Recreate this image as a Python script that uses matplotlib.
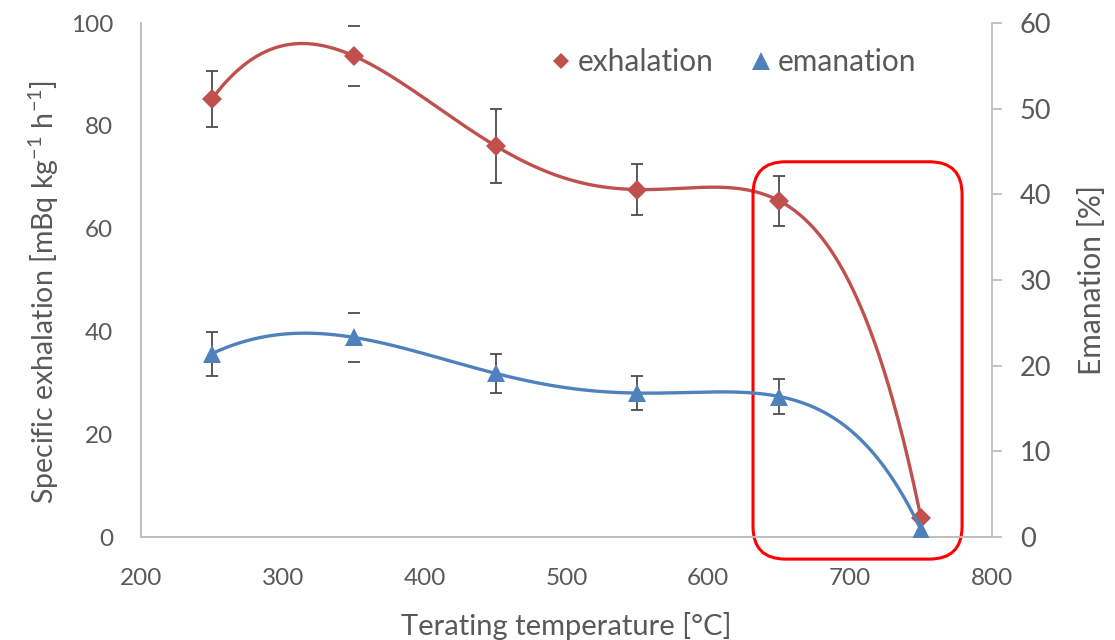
import matplotlib
matplotlib.use("Agg")
import matplotlib.pyplot as plt
import numpy as np
from matplotlib.patches import FancyBboxPatch
from matplotlib.lines import Line2D

# data
temperature = [250, 350, 450, 550, 650, 750]
exhalation = [85.2, 93.6, 76.1, 67.6, 65.4, 3.6]
exhalation_err = [5.5, 5.85, 7.2, 5.0, 4.9, 0.0]
emanation = [21.4, 23.3, 19.1, 16.8, 16.4, 0.8]
emanation_err = [2.55, 2.85, 2.3, 1.95, 2.0, 0.0]
# the 350 °C bars show only their caps in the original
stemless = [False, True, False, False, False, False]

red = "#C0504D"
blue = "#4F81BD"
text_gray = "#595959"
axis_gray = "#BFBFBF"
bar_gray = "#4D4D4D"

plt.rcParams["font.family"] = ["Lato", "DejaVu Sans"]
plt.rcParams["mathtext.fontset"] = "custom"
plt.rcParams["mathtext.rm"] = "Lato"
plt.rcParams["mathtext.it"] = "Lato"

fig = plt.figure(figsize=(11.15, 6.4), dpi=100)
ax = fig.add_axes([141 / 1115, 1 - 537 / 640, 851 / 1115, 514 / 640])
ax2 = ax.twinx()

x = np.array(temperature, dtype=float)
xs = np.linspace(x.min(), x.max(), 400)


def draw_series(axis, values, errors, color, marker, msize):
    vals = np.array(values, dtype=float)
    errs = np.array(errors, dtype=float)
    # Excel-style 5th order polynomial trendline (passes through all 6 points)
    poly = np.polynomial.Polynomial.fit(x, vals, 5)
    axis.plot(xs, poly(xs), color=color, linewidth=2.4, zorder=2, solid_capstyle="round")
    keep = errs > 0
    full = keep & ~np.array(stemless)
    caps_only = keep & np.array(stemless)
    axis.errorbar(x[full], vals[full], yerr=errs[full], fmt="none", ecolor=bar_gray,
                  elinewidth=1.3, capsize=4, capthick=1.3, zorder=3)
    axis.errorbar(x[caps_only], vals[caps_only], yerr=errs[caps_only], fmt="none", ecolor=bar_gray,
                  elinewidth=0, capsize=4, capthick=1.3, zorder=3)
    axis.plot(x, vals, linestyle="none", marker=marker, markersize=msize, color=color,
              markeredgewidth=0, zorder=4)


draw_series(ax, exhalation, exhalation_err, red, "D", 10.5)
draw_series(ax2, emanation, emanation_err, blue, "^", 12.5)

ax.set_xlim(200, 800)
ax.set_ylim(0, 100)
ax2.set_ylim(0, 60)
ax.set_xticks(np.arange(200, 801, 100))
ax.set_yticks(np.arange(0, 101, 20))
ax2.set_yticks(np.arange(0, 61, 10))

for a in (ax, ax2):
    for s in a.spines.values():
        s.set_color(axis_gray)
        s.set_linewidth(1.3)
    a.spines["top"].set_visible(False)
ax.spines["right"].set_visible(False)

ax.tick_params(axis="x", length=0, pad=22, labelsize=17.5, labelcolor=text_gray)
ax.tick_params(axis="y", length=0, pad=20, labelsize=17.5, labelcolor=text_gray)
ax2.tick_params(axis="y", length=7, width=1.3, color=axis_gray, pad=13,
                labelsize=19.5, labelcolor=text_gray)

ax.set_xlabel("Terating temperature [°C]", fontsize=21, color=text_gray, labelpad=17)
ax.set_ylabel("Specific exhalation [mBq kg$^{-1}$ h$^{-1}$]", fontsize=20.5,
              color=text_gray, labelpad=7)
ax.yaxis.label.set_y(0.477)
ax2.set_ylabel("Emanation [%]", fontsize=21.5, color=text_gray, labelpad=19)

# red rounded highlight box around the 650-750 °C region
x_px = 851 / 600
y_px = 514 / 100
box = FancyBboxPatch((631.5, -4.3), 147.4, 77.3,
                     boxstyle="round,pad=0,rounding_size=23",
                     mutation_aspect=x_px / y_px,
                     facecolor="none", edgecolor="#FF0000", linewidth=2.2,
                     clip_on=False, zorder=5)
ax.add_patch(box)

handles = [
    Line2D([], [], linestyle="none", marker="D", markersize=8.5, color=red, markeredgewidth=0),
    Line2D([], [], linestyle="none", marker="^", markersize=13, color=blue, markeredgewidth=0),
]
fig.legend(handles, ["exhalation", "emanation"], loc="center",
           bbox_to_anchor=(731 / 1115, 1 - 62 / 640), ncol=2, frameon=False,
           fontsize=21.5, labelcolor=text_gray, handletextpad=0.05, columnspacing=1.1,
           handlelength=1.0)

fig.savefig("out.png", dpi=100)
